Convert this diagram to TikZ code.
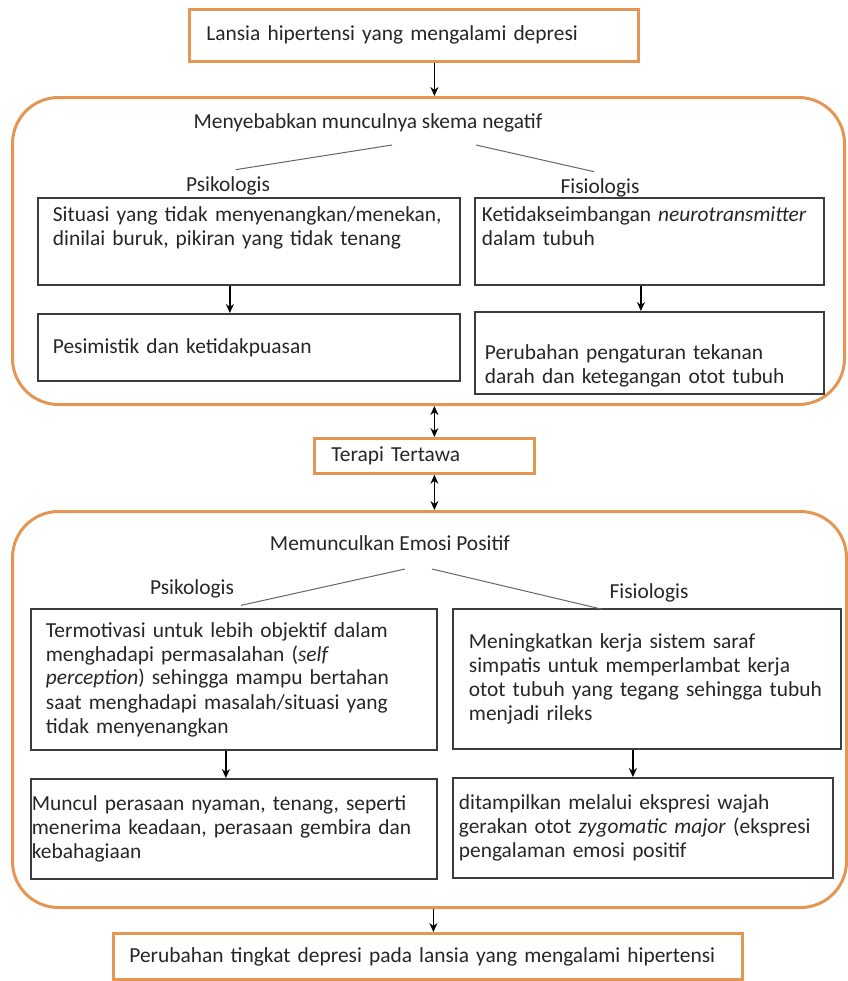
\documentclass[tikz,border=0pt]{standalone}
\usepackage{fontspec}
\setmainfont{Carlito}
\usepackage{tikz}
\usetikzlibrary{positioning,arrows.meta}
\definecolor{orng}{RGB}{228,150,85}
\definecolor{edge}{RGB}{60,60,60}

\begin{document}
\begin{tikzpicture}[
  x=0.5pt, y=-0.5pt,
  >={Stealth[length=4.5pt,width=4pt]},
  font=\fontsize{10.7}{12}\selectfont,
  frame/.style={draw=orng, line width=1.5pt, rounded corners=23pt, anchor=north west},
  obox/.style={draw=orng, line width=1.4pt, fill=white, anchor=north west, align=left, inner xsep=8.5pt},
  box/.style={draw=edge, line width=0.9pt, anchor=north west, align=left, inner xsep=7.5pt},
  twig/.style={draw=black!60, line width=0.5pt},
  link/.style={->, line width=0.6pt},
  text=black!85,
]
\useasboundingbox (0,0) rectangle (847,981);
\node[frame, minimum width=416pt, minimum height=153.5pt] (neg) at (11,96) {};
\node[frame, minimum width=417pt, minimum height=198pt] (pos) at (11,510) {};

\node[obox, minimum width=224.5pt, text width=207.5pt, minimum height=26pt] (top) at (188,8) {Lansia hipertensi yang mengalami depresi};

\node (negt) at (368,123) {Menyebabkan munculnya skema negatif};
\node (psi1) at (228,186) {Psikologis};
\node (fis1) at (600,188) {Fisiologis};
\node[box, minimum width=211pt, text width=196pt, minimum height=43.5pt] (a1) at (37,197)
  {\mbox{Situasi yang tidak menyenangkan/menekan,}\\ dinilai buruk, pikiran yang tidak tenang\\ \strut};
\node[box, minimum width=174.5pt, inner xsep=3.5pt, text width=167.5pt, minimum height=43.5pt] (b1) at (474,197)
  {\mbox{Ketidakseimbangan \textit{neurotransmitter}}\\ dalam tubuh\\ \strut};
\node[box, minimum width=211pt, text width=196pt, minimum height=33.5pt] (a2) at (37,313)
  {Pesimistik dan ketidakpuasan};
\node[box, minimum width=174.5pt, inner xsep=5pt, text width=164.5pt, minimum height=39pt] (b2) at (474,311)
  {\strut\\ Perubahan pengaturan tekanan\\ darah dan ketegangan otot tubuh};

\node[obox, minimum width=110pt, text width=93pt, minimum height=17.5pt] (ter) at (313,437) {Terapi Tertawa};

\node (post) at (390,543) {Memunculkan Emosi Positif};
\node (psi2) at (192,589) {Psikologis};
\node (fis2) at (649,593) {Fisiologis};
\node[box, minimum width=203pt, text width=188pt, minimum height=70.5pt] (c1) at (30,608)
  {Termotivasi untuk lebih objektif dalam\\ menghadapi permasalahan (\textit{self}\\ \mbox{\textit{perception}) sehingga mampu bertahan}\\ \mbox{saat menghadapi masalah/situasi yang}\\ tidak menyenangkan};
\node[box, minimum width=194pt, inner xsep=8pt, text width=178pt, minimum height=70pt] (d1) at (452,608)
  {Meningkatkan kerja sistem saraf\\ simpatis untuk memperlambat kerja\\ \mbox{otot tubuh yang tegang sehingga tubuh}\\ menjadi rileks};
\node[box, minimum width=203pt, inner xsep=0.5pt, text width=202pt, minimum height=50pt] (c2) at (30,778)
  {Muncul perasaan nyaman, tenang, seperti\\ menerima keadaan, perasaan gembira dan\\ kebahagiaan};
\node[box, minimum width=190pt, inner xsep=3pt, text width=184pt, minimum height=50pt] (d2) at (452,777)
  {ditampilkan melalui ekspresi wajah\\ \mbox{gerakan otot \textit{zygomatic major} (ekspresi}\\ pengalaman emosi positif};

\node[obox, minimum width=314.5pt, inner xsep=8pt, text width=298.5pt, minimum height=23pt] (fin) at (112,932)
  {\mbox{Perubahan tingkat depresi pada lansia yang mengalami hipertensi}};

\coordinate (n1) at (392,145);
\coordinate (n2) at (476,145);
\coordinate (p1) at (405,569);
\coordinate (p2) at (432,569);
\draw[twig] (n1) -- (psi1.65);
\draw[twig] (n2) -- (fis1.110);
\draw[twig] (p1) -- (psi2.south east);
\draw[twig] (p2) -- (fis2.south west);

\draw[link] ([xshift=10.25pt]top.south) -- ([xshift=10.25pt]top.south |- neg.north);
\draw[link] ([xshift=-9.5pt]a1.south) -- ([xshift=-9.5pt]a1.south |- a2.north);
\draw[link] ([xshift=-4.25pt]b1.south) -- ([xshift=-4.25pt]b1.south |- b2.north);
\draw[link, <->] ([xshift=5pt]ter.north |- neg.south) -- ([xshift=5pt]ter.north);
\draw[link, <->] ([xshift=5pt]ter.south) -- ([xshift=5pt]ter.south |- pos.north);
\draw[link] ([xshift=-4pt]c1.south) -- ([xshift=-4pt]c1.south |- c2.north);
\draw[link] ([xshift=-7pt]d1.south) -- ([xshift=-7pt]d1.south |- d2.north);
\draw[link] ([xshift=2.75pt]fin.north |- pos.south) -- ([xshift=2.75pt]fin.north);
\end{tikzpicture}
\end{document}
